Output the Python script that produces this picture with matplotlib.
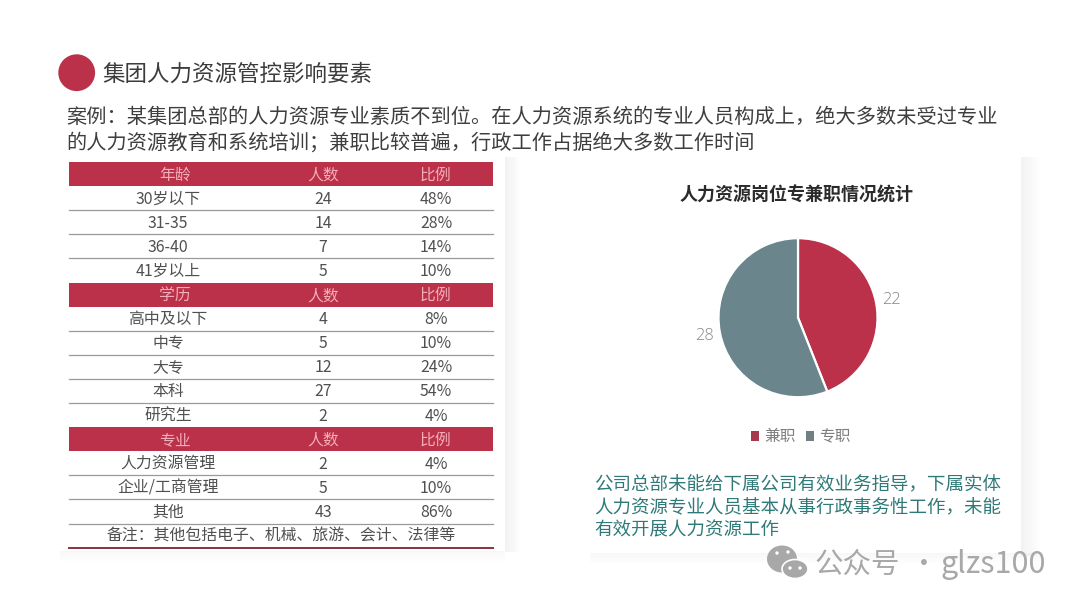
import matplotlib
matplotlib.use("Agg")
import matplotlib.pyplot as plt
from matplotlib.patches import Rectangle, Circle, Ellipse

plt.rcParams['font.family'] = ['Noto Sans CJK SC', 'DejaVu Sans']

# ---- data ----
page_title = "集团人力资源管控影响要素"
case_lines = ["案例：某集团总部的人力资源专业素质不到位。在人力资源系统的专业人员构成上，绝大多数未受过专业",
              "的人力资源教育和系统培训；兼职比较普遍，行政工作占据绝大多数工作时间"]
col_count = "人数"
col_share = "比例"
age_labels = ["30岁以下", "31-35", "36-40", "41岁以上"]
age_counts = [24, 14, 7, 5]
age_shares = ["48%", "28%", "14%", "10%"]
edu_labels = ["高中及以下", "中专", "大专", "本科", "研究生"]
edu_counts = [4, 5, 12, 27, 2]
edu_shares = ["8%", "10%", "24%", "54%", "4%"]
major_labels = ["人力资源管理", "企业/工商管理", "其他"]
major_counts = [2, 5, 43]
major_shares = ["4%", "10%", "86%"]
table_note = "备注：其他包括电子、机械、旅游、会计、法律等"
pie_title = "人力资源岗位专兼职情况统计"
pie_labels = ["兼职", "专职"]
pie_values = [22, 28]
comment_lines = ["公司总部未能给下属公司有效业务指导，下属实体",
                 "人力资源专业人员基本从事行政事务性工作，未能",
                 "有效开展人力资源工作"]
watermark_cn = "公众号"
watermark_dot = "·"
watermark_id = "glzs100"

RED = "#BA3149"
SLATE = "#6A858C"

fig = plt.figure(figsize=(10.8, 6.07), dpi=100, facecolor="#FFFFFF")
bg = fig.add_axes([0, 0, 1, 1])
bg.set_xlim(0, 1080)
bg.set_ylim(607, 0)
bg.axis("off")


def fade(x0, y0, x1, y1, horizontal=True, start=0.052, steps=14):
    """Soft shadow strip: strongest at (x0, y0), fading towards (x1, y1)."""
    for i in range(steps):
        a = start * (1 - i / steps)
        if horizontal:
            w = (x1 - x0) / steps
            rect = Rectangle((x0 + i * w, y0), w, y1 - y0, fc="black", alpha=a, ec="none", zorder=1)
        else:
            h = (y1 - y0) / steps
            rect = Rectangle((x0, y0 + i * h), x1 - x0, h, fc="black", alpha=a, ec="none", zorder=1)
        bg.add_patch(rect)


fade(505, 157, 520, 552)            # right edge of the table card
fade(60, 551, 505, 562, horizontal=False, start=0.03)
fade(1021, 157, 1040, 556)          # right edge of the chart card
fade(590, 553, 1040, 564, horizontal=False, start=0.03)

# header
bg.add_patch(Circle((76.7, 72.7), 18.4, fc=RED, ec="none", zorder=5))
bg.text(102.5, 74, page_title, fontsize=16.2, color="#3C3C3C", va="center", ha="left", zorder=5)
for y, line in zip([117, 143], case_lines):
    bg.text(66.5, y, line, fontsize=14.55, color="#3E3E3E", va="center", ha="left", zorder=5)

# table
X0, X1 = 69, 493
TOP, ROW = 162.0, 24.1
HEAD_CX = [175, 323, 436]
ROW_CX = [168, 323, 436]
sections = [("年龄", age_labels, age_counts, age_shares),
            ("学历", edu_labels, edu_counts, edu_shares),
            ("专业", major_labels, major_counts, major_shares)]
r = 0
FS = 11.4
for head, labels, counts, shares in sections:
    y = TOP + r * ROW
    bg.add_patch(Rectangle((X0, y), X1 - X0, ROW, fc=RED, ec="none", zorder=4))
    for cx, t in zip(HEAD_CX, [head, col_count, col_share]):
        bg.text(cx, y + ROW / 2 + 1, t, fontsize=FS, color="#F3AEBA", ha="center", va="center", zorder=5)
    r += 1
    for i, (a, b, c) in enumerate(zip(labels, counts, shares)):
        y = TOP + r * ROW
        for cx, t in zip(ROW_CX, [a, str(b), c]):
            bg.text(cx, y + ROW / 2 + 1, t, fontsize=FS, color="#505050", ha="center", va="center", zorder=5)
        if i < len(labels) - 1:
            bg.plot([X0, X1], [y + ROW, y + ROW], color="#9A9A9A", lw=0.9, zorder=4)
        r += 1
y = TOP + r * ROW
bg.plot([X0, X1], [y, y], color="#9A9A9A", lw=0.9, zorder=4)
bg.text(281, y + ROW / 2 + 1, table_note, fontsize=FS, color="#505050", ha="center", va="center", zorder=5)
y += ROW
bg.plot([X0, X1], [y, y], color="#8E2F42", lw=1.4, zorder=4)

# pie
bg.text(796.5, 195, pie_title, fontsize=13, color="#2A2A2A", ha="center", va="center", zorder=5, fontweight="bold")
PCX, PCY, PR = 798, 317.7, 79.5
ax = fig.add_axes([(PCX - PR) / 1080, 1 - (PCY + PR) / 607, 2 * PR / 1080, 2 * PR / 607], zorder=3)
wedges, texts = ax.pie(pie_values, labels=[str(v) for v in pie_values], colors=[RED, SLATE],
                       startangle=90, counterclock=False, labeldistance=1.2,
                       wedgeprops=dict(edgecolor="white", linewidth=1.6),
                       textprops=dict(fontsize=11.8, color="#858585", family="Open Sans", fontweight="light"))
for t in texts:
    t.set_ha("center")
    t.set_va("center")
    t.set_clip_on(False)
ax.set_xlim(-1.0, 1.0)
ax.set_ylim(-1.0, 1.0)
ax.patch.set_alpha(0)
leg = fig.legend(wedges, pie_labels, loc="center", bbox_to_anchor=(800.5 / 1080, 1 - 437 / 607),
                 ncol=2, frameon=False, fontsize=11.3, labelcolor="#7E7E7E",
                 handlelength=0.55, handleheight=0.55, handletextpad=0.3, columnspacing=0.65)
for h, col in zip(leg.legend_handles, ["#A8384E", "#727F83"]):
    h.set_edgecolor("none")
    h.set_facecolor(col)

# comment
for y, line in zip([485.5, 508, 530.5], comment_lines):
    bg.text(594, y, line, fontsize=13.3, color="#2F7A78", ha="left", va="center", zorder=5)

# watermark
WM = "#A8A8A8"
bg.add_patch(Ellipse((782, 559), 30, 27, fc=WM, ec="none", zorder=6))
bg.add_patch(Ellipse((795, 569), 26, 19, fc=WM, ec="white", lw=1.2, zorder=7))
for ex, ey in [(777, 553), (788, 552), (790, 568), (800, 568)]:
    bg.add_patch(Circle((ex, ey), 1.7, fc="white", ec="none", zorder=8))
bg.text(815, 565, watermark_cn, fontsize=20.5, color=WM, ha="left", va="center", zorder=6)
bg.text(924, 565, watermark_dot, fontsize=20, color=WM, ha="center", va="center", zorder=6)
bg.text(941, 565, watermark_id, fontsize=22, color=WM, ha="left", va="center", zorder=6)

fig.savefig("out.png", dpi=100)
